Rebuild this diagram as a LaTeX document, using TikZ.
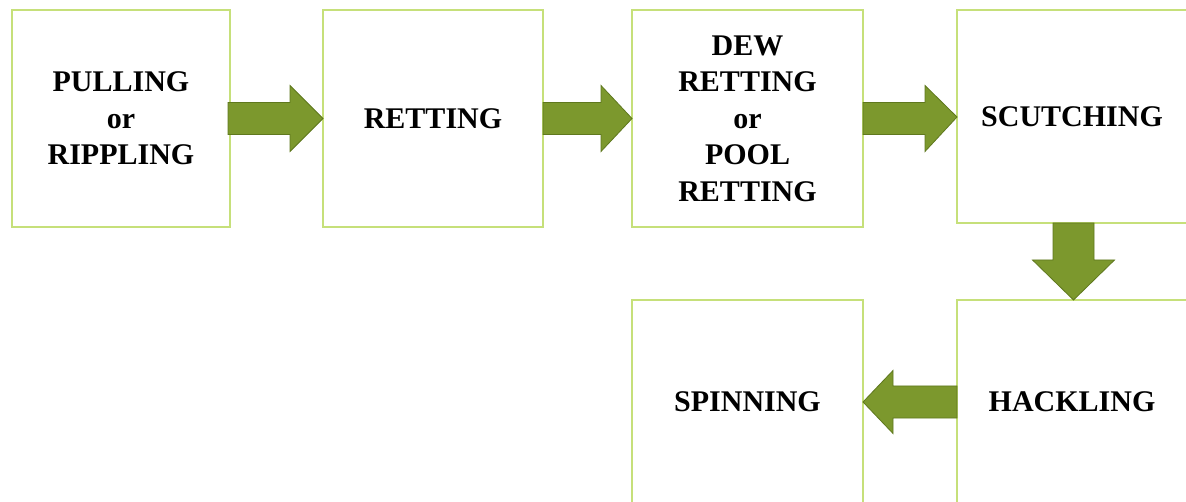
\documentclass[tikz,border=0pt]{standalone}
\usepackage{fontspec}
\setmainfont{Liberation Serif}
\usetikzlibrary{calc}
\definecolor{boxline}{RGB}{198,224,122}
\definecolor{arrowfill}{RGB}{124,152,45}
\definecolor{arrowline}{RGB}{95,120,30}
\tikzset{
  stepbox/.style={draw=boxline, line width=2pt, fill=white, rectangle, inner sep=0pt, outer sep=0pt,
    align=center, font=\fontsize{30}{36.5}\selectfont\bfseries, text=black},
  blockarrow/.style={fill=arrowfill, draw=arrowline, line width=0.8pt, line join=miter}
}
\begin{document}
\begin{tikzpicture}[x=1pt,y=-1pt]
\useasboundingbox (0,0) rectangle (1186,502);
\clip (0,0) rectangle (1186,502);
\fill[white] (0,0) rectangle (1186,502);
\node[stepbox, minimum width=218pt, minimum height=217pt] (b1) at (121,118.5) {PULLING\\or\\RIPPLING};
\node[stepbox, minimum width=220pt, minimum height=217pt] (b2) at (433,118.5) {RETTING};
\node[stepbox, minimum width=231pt, minimum height=217pt] (b3) at (747.5,118.5) {DEW\\RETTING\\or\\POOL\\RETTING};
\node[stepbox, minimum width=230pt, minimum height=213pt] (b4) at (1072,116.5) {SCUTCHING};
\node[stepbox, minimum width=230pt, minimum height=204pt] (b5) at (1072,402) {HACKLING};
\node[stepbox, minimum width=231pt, minimum height=204pt] (b6) at (747.5,402) {SPINNING};
% right arrows
\path[blockarrow] let \p1=(b1.east), \p2=(b2.west) in
  (\x1-2pt,\y1+16pt) -- (\x2-33pt,\y1+16pt) -- (\x2-33pt,\y1+33pt) -- (\x2,\y1) -- (\x2-33pt,\y1-33pt) -- (\x2-33pt,\y1-16pt) -- (\x1-2pt,\y1-16pt) -- cycle;
\path[blockarrow] let \p1=(b2.east), \p2=(b3.west) in
  (\x1,\y1+16pt) -- (\x2-31pt,\y1+16pt) -- (\x2-31pt,\y1+33pt) -- (\x2,\y1) -- (\x2-31pt,\y1-33pt) -- (\x2-31pt,\y1-16pt) -- (\x1,\y1-16pt) -- cycle;
\path[blockarrow] let \p1=(b3.east), \p2=(b4.west) in
  (\x1,\y1+16pt) -- (\x2-32pt,\y1+16pt) -- (\x2-32pt,\y1+33pt) -- (\x2,\y1+1.5pt) -- (\x2-32pt,\y1-33pt) -- (\x2-32pt,\y1-16pt) -- (\x1,\y1-16pt) -- cycle;
% down arrow
\path[blockarrow] let \p1=(b4.south), \p2=(b5.north) in
  (\x1-19pt,\y1) -- (\x1-19pt,\y2+40pt) -- (\x1-39.5pt,\y2+40pt) -- (\x1+1.5pt,\y2) -- (\x1+42.5pt,\y2+40pt) -- (\x1+22pt,\y2+40pt) -- (\x1+22pt,\y1) -- cycle;
% left arrow
\path[blockarrow] let \p1=(b5.west), \p2=(b6.east) in
  (\x1,\y1+16pt) -- (\x2+30pt,\y1+16pt) -- (\x2+30pt,\y1+31.5pt) -- (\x2,\y1) -- (\x2+30pt,\y1-31.5pt) -- (\x2+30pt,\y1-16pt) -- (\x1,\y1-16pt) -- cycle;
\end{tikzpicture}
\end{document}
